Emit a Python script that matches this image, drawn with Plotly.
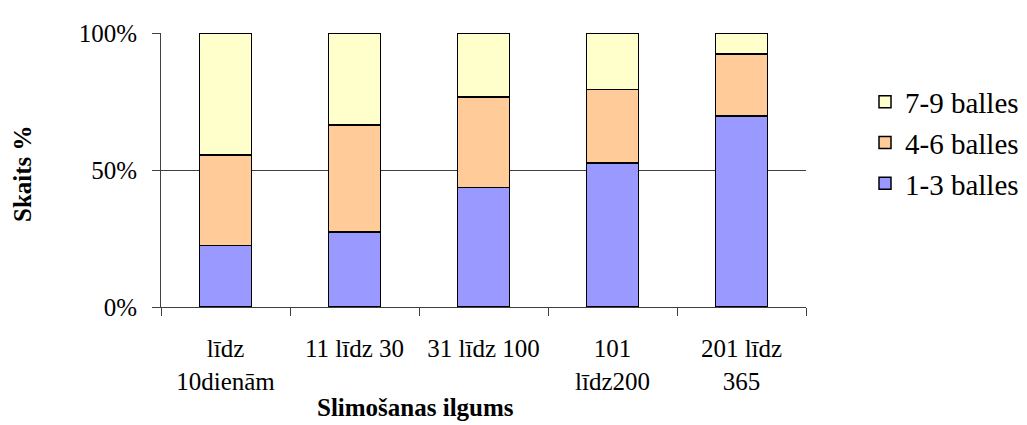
import plotly.graph_objects as go

categories = ["līdz<br>10dienām", "11 līdz 30", "31 līdz 100", "101<br>līdz200", "201 līdz<br>365"]
series_names = ["1-3 balles", "4-6 balles", "7-9 balles"]
vals_1_3 = [22.4, 27.3, 43.7, 52.6, 69.8]
vals_4_6 = [33.0, 39.1, 33.0, 26.8, 22.6]
vals_7_9 = [44.6, 33.6, 23.3, 20.6, 7.6]
colors = ["#9999FF", "#FFCC99", "#FFFFCC"]
ytick_vals = [0, 50, 100]
ytick_text = ["0%", "50%", "100%"]

FONT = "Liberation Serif"

# page body has an 8px default margin; work in screen pixels
OFF = 8
W, H = 1027 - OFF, 425 - OFF
PL, PR, PT, PB = 160.7, 805.7, 25.7, 306.7  # plot area in screen px
pw, ph = PR - PL, PB - PT


def px(x):
    return (x - PL) / pw


def py(y):
    return (PB - y) / ph


fig = go.Figure()
for name, vals, col in zip(series_names, [vals_1_3, vals_4_6, vals_7_9], colors):
    fig.add_trace(go.Bar(x=categories, y=vals, name=name,
                         marker=dict(color=col, line=dict(color="black", width=1.5))))

fig.update_layout(
    width=W, height=H,
    barmode="stack", bargap=0.6,
    paper_bgcolor="white", plot_bgcolor="white",
    margin=dict(l=PL - OFF, r=W - (PR - OFF), t=PT - OFF, b=H - (PB - OFF)),
    font=dict(family=FONT, size=25, color="black"),
    showlegend=True,
    legend=dict(traceorder="reversed", xref="container", yref="container",
                x=(865 - OFF) / W, xanchor="left", y=1 - (143 - OFF) / H, yanchor="middle",
                font=dict(family=FONT, size=29, color="black"), bgcolor="rgba(0,0,0,0)",
                itemclick=False),
)
fig.update_xaxes(
    type="category", showline=True, linecolor="#404040", linewidth=1,
    ticks="outside", tickson="boundaries", ticklen=8, tickcolor="#404040",
    showgrid=False, tickfont=dict(family=FONT, size=25, color="black"),
    ticklabelstandoff=19,
)
fig.update_yaxes(
    range=[0, 100], tickvals=ytick_vals, ticktext=ytick_text,
    showline=True, linecolor="#404040", linewidth=1,
    ticks="outside", ticklen=8, tickcolor="#404040",
    showgrid=True, gridcolor="#404040", gridwidth=1, zeroline=False,
    tickfont=dict(family=FONT, size=25, color="black"), ticklabelstandoff=10,
)
fig.add_annotation(text="<b>Slimošanas ilgums</b>", xref="paper", yref="paper",
                   x=px(415), y=py(410), xanchor="center", yanchor="middle",
                   showarrow=False, font=dict(family=FONT, size=25, color="black"))
fig.add_annotation(text="<b>Skaits %</b>", xref="paper", yref="paper", textangle=-90,
                   x=px(22), y=py(170), xanchor="center", yanchor="middle",
                   showarrow=False, font=dict(family=FONT, size=25, color="black"))

fig.write_html("out.html")
